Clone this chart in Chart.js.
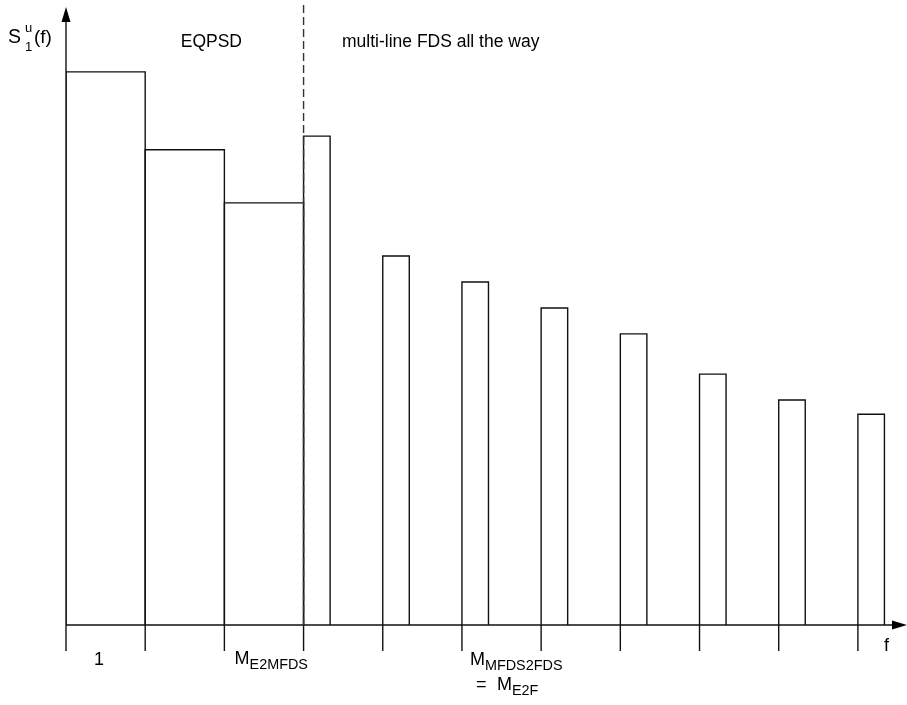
<!DOCTYPE html>
<html>
<head>
<meta charset="utf-8">
<script src="https://cdn.jsdelivr.net/npm/chart.js@4"></script>
<style>
  body { margin: 0; background: #fff; }
</style>
</head>
<body>
<canvas id="myChart" width="907" height="705"></canvas>
<script>
// frequency bins (in tone-group units) and the PSD level of each one
const binStart = [0, 1, 2, 3, 4, 5, 6, 7, 8, 9, 10];
const binEnd   = [1, 2, 3, 3.335, 4.335, 5.335, 6.335, 7.335, 8.335, 9.335, 10.335];
const psdLevel = [89.5, 76.9, 68.3, 79.1, 59.7, 55.5, 51.3, 47.1, 40.6, 36.4, 34.1];
const tickPos  = [0, 1, 2, 3, 4, 5, 6, 7, 8, 9, 10];
const switchAt = 3; // EQPSD -> multi-line FDS boundary
const regionLabels = ['EQPSD', 'multi-line FDS all the way'];

const FONT = 'Arial, "Liberation Sans", sans-serif';

// each bin becomes an open rectangle outline
const datasets = [];
for (let i = 0; i < binStart.length; i++) {
  datasets.push({
    data: [
      {x: binStart[i], y: 0},
      {x: binStart[i], y: psdLevel[i]},
      {x: binEnd[i], y: psdLevel[i]},
      {x: binEnd[i], y: 0}
    ],
    showLine: true,
    borderColor: '#111',
    borderWidth: 1.4,
    pointRadius: 0,
    fill: false,
    tension: 0
  });
}

function sub(ctx, main, s, x, y, size) {
  ctx.font = size + 'px ' + FONT;
  ctx.fillText(main, x, y);
  const w = ctx.measureText(main).width;
  ctx.font = (size * 0.8) + 'px ' + FONT;
  ctx.fillText(s, x + w, y + 5);
}

const drawing = {
  id: 'drawing',
  afterDraw(chart) {
    const ctx = chart.ctx;
    const xs = chart.scales.x, ys = chart.scales.y;
    const x0 = xs.getPixelForValue(0);
    const y0 = ys.getPixelForValue(0);
    const top = chart.chartArea.top;
    const right = chart.chartArea.right;
    ctx.save();
    ctx.strokeStyle = '#111';
    ctx.fillStyle = '#000';
    ctx.lineWidth = 1.4;

    // axes
    ctx.beginPath();
    ctx.moveTo(x0, y0); ctx.lineTo(x0, top + 12);
    ctx.moveTo(x0, y0); ctx.lineTo(right - 12, y0);
    ctx.stroke();
    ctx.beginPath();
    ctx.moveTo(x0, top); ctx.lineTo(x0 - 4.5, top + 15); ctx.lineTo(x0 + 4.5, top + 15); ctx.closePath();
    ctx.fill();
    ctx.beginPath();
    ctx.moveTo(right, y0); ctx.lineTo(right - 15, y0 - 4.5); ctx.lineTo(right - 15, y0 + 4.5); ctx.closePath();
    ctx.fill();

    // ticks
    ctx.beginPath();
    tickPos.forEach(t => {
      const px = xs.getPixelForValue(t);
      ctx.moveTo(px, y0); ctx.lineTo(px, y0 + 26);
    });
    ctx.stroke();

    // dashed boundary
    const xs3 = xs.getPixelForValue(switchAt);
    ctx.setLineDash([8, 4]);
    ctx.lineWidth = 1.4;
    ctx.strokeStyle = '#333';
    ctx.beginPath();
    ctx.moveTo(xs3, 5); ctx.lineTo(xs3, y0);
    ctx.stroke();
    ctx.setLineDash([]);

    // texts
    ctx.textBaseline = 'alphabetic';
    ctx.font = '17.5px ' + FONT;
    ctx.textAlign = 'right';
    ctx.fillText(regionLabels[0], 242, 47);
    ctx.textAlign = 'left';
    ctx.fillText(regionLabels[1], 342, 47);

    // y axis label S_1^u(f)
    ctx.font = '19.5px ' + FONT;
    ctx.fillText('S', 8, 43);
    ctx.font = '13px ' + FONT;
    ctx.fillText('u', 25, 32);
    ctx.fillText('1', 25, 51);
    ctx.font = '19px ' + FONT;
    ctx.fillText('(f)', 34, 43);

    // x tick labels
    ctx.font = '18px ' + FONT;
    ctx.fillText('1', xs.getPixelForValue(0) + 28, 665);
    sub(ctx, 'M', 'E2MFDS', xs.getPixelForValue(3) - 69, 664, 18);
    sub(ctx, 'M', 'MFDS2FDS', xs.getPixelForValue(5) + 8, 665, 18);
    ctx.font = '18px ' + FONT;
    ctx.fillText('=', xs.getPixelForValue(5) + 14, 690);
    sub(ctx, 'M', 'E2F', xs.getPixelForValue(5) + 35, 690, 18);
    ctx.font = '18px ' + FONT;
    ctx.fillText('f', 884, 651);
    ctx.restore();
  }
};

const ctx = document.getElementById('myChart').getContext('2d');
const myChart = new Chart(ctx, {
  type: 'scatter',
  data: { datasets: datasets },
  options: {
    responsive: false,
    animation: false,
    layout: { padding: { left: 66, right: 0, top: 7, bottom: 80 } },
    plugins: { legend: { display: false }, tooltip: { enabled: false } },
    scales: {
      x: { type: 'linear', min: 0, max: 10.62, display: false },
      y: { type: 'linear', min: 0, max: 100, display: false }
    }
  },
  plugins: [drawing]
});
</script>
</body>
</html>
